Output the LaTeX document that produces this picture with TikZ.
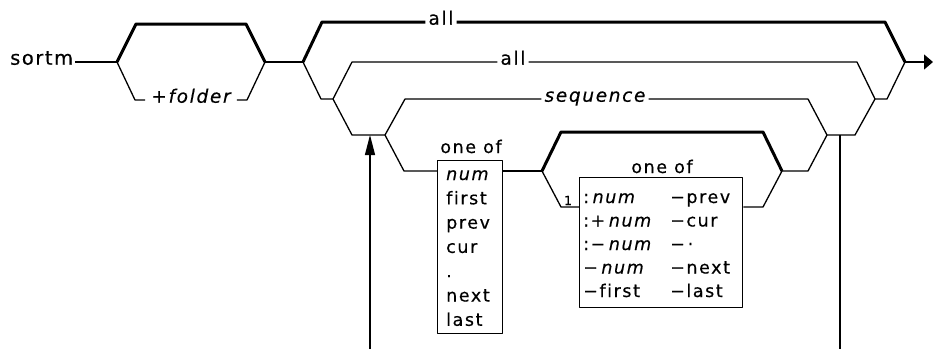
\documentclass[tikz,border=0pt]{standalone}
\usepackage{fontspec}
\setmainfont{DejaVu Sans}[LetterSpace=9, Ligatures=NoCommon, FakeBold=0.4]
\newfontfamily\cmdfont{DejaVu Sans}[LetterSpace=8, Ligatures=NoCommon, FakeBold=0.4]
\usetikzlibrary{arrows.meta}
\newcommand{\ls}{\kern3.5pt}
\begin{document}
\begin{tikzpicture}[x=1pt,y=-1pt, line join=round,
  thinln/.style={line width=1.3pt},
  thickln/.style={line width=3pt},
  lbl/.style={font=\fontsize{18.5}{21}\selectfont, inner ysep=0pt, inner xsep=3pt, anchor=mid},
  item/.style={font=\fontsize{17.5}{19}\selectfont, inner sep=0pt, anchor=base west},
  box/.style={draw, line width=1.3pt, anchor=north west, inner sep=0pt},
]
\useasboundingbox (0,0) rectangle (935,349);

% labels
\node[lbl, font=\cmdfont\fontsize{19.5}{22}\selectfont, anchor=mid west, inner xsep=0pt] (sortm) at (10,62) {sortm};
\node[lbl, inner xsep=6pt] (folder) at (191,100) {\itshape +folder};
\node[lbl] (all1) at (441,22) {all};
\node[lbl] (all2) at (513,62) {all};
\node[lbl] (seq) at (595,99) {\itshape sequence};

% boxes
\node[box, minimum width=65pt, minimum height=173pt] (box1) at (437,160) {};
\node[box, minimum width=163pt, minimum height=130pt] (box2) at (579,177) {};
\node[item, anchor=base] (oneofA) at (471,153) {one of};
\node[item, anchor=base] (oneofB) at (662,173) {one of};
\node[font=\fontsize{12.5}{13}\selectfont, inner sep=0pt, anchor=base] (one) at (568,205) {1};

\foreach \t [count=\i] in {{\itshape num},first,prev,cur,.,next,last}
  \node[item] (ra\i) at (446,155.7+24.3*\i) {\t};
\foreach \t [count=\i] in {{:\ls\itshape num},{:+\ls\itshape num},{:−\ls\itshape num},{−\ls\itshape num},−first}
  \node[item] (rb\i) at (583,179.5+23.5*\i) {\t};
\foreach \t [count=\i] in {−prev,−cur,{−\,·},−next,−last}
  \node[item] (rc\i) at (670,179.5+23.5*\i) {\t};

% junction coordinates
\coordinate (a0) at (75,62);
\coordinate (a1) at (117,62);
\coordinate (a2) at (265,62);
\coordinate (b1) at (303,62);
\coordinate (b2) at (333,99);
\coordinate (c1) at (385,135);
\coordinate (d1) at (542,171);
\coordinate (d2) at (782,171);
\coordinate (x2) at (827,135);
\coordinate (y2) at (875,99);
\coordinate (z) at (905,62);
\coordinate (zend) at (933,62);
\coordinate (p) at (370,349);
\coordinate (q) at (370,135);
\coordinate (r) at (840,135);
\coordinate (s) at (840,349);

% folder group
\draw[thinln] (a0) -- (a1);
\draw[thickln] (a1) -- (136,24) -- (246,24) -- (a2);
\draw[thinln] (a1) -- (135,100) -- (folder.mid west);
\draw[thinln] (folder.mid east) -- (247,100) -- (a2);
\draw[thinln] (a2) -- (b1);

% all (default)
\draw[thickln] (b1) -- (322,22) -- (all1.mid west);
\draw[thickln] (all1.mid east) -- (885,22) -- (z);
\draw[thinln, -{Triangle[width=15pt,length=9pt]}] (z) -- (zend);

% second level
\draw[thinln] (b1) -- (321,99) -- (b2);
\draw[thinln] (b2) -- (352,62) -- (all2.mid west);
\draw[thinln] (all2.mid east) -- (857,62) -- (y2) -- (887,99) -- (z);

% third level
\draw[thinln] (b2) -- (352,135) -- (c1);
\draw[thinln] (c1) -- (405,99) -- (seq.mid west);
\draw[thinln] (seq.mid east) -- (808,99) -- (x2);
\draw[thinln] (x2) -- (855,135) -- (y2);

% box group
\draw[thinln] (c1) -- (404,171) -- ([yshift=-11pt]box1.north west);
\draw[thinln] ([yshift=-11pt]box1.north east) -- (d1);
\draw[thickln] (d1) -- (561,132) -- (763,132) -- (d2);
\draw[thinln] (d1) -- (561,207) -- ([yshift=-30pt]box2.north west);
\draw[thinln] ([yshift=-30pt]box2.north east) -- (763,207) -- (d2);
\draw[thinln] (d2) -- (808,171) -- (x2);

% repeat arrow and vertical
\draw[thinln, -{Triangle[width=10pt,length=20pt]}] (p) -- (q);
\draw[thinln] (r) -- (s);
\end{tikzpicture}
\end{document}
